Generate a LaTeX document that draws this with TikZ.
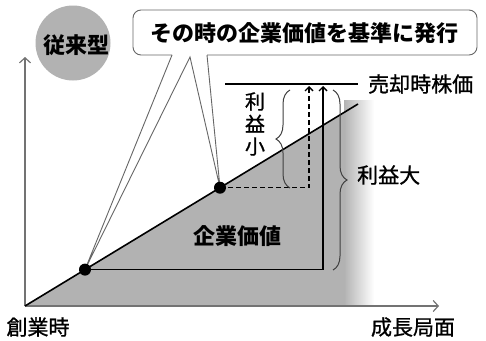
\documentclass[tikz,border=0pt]{standalone}
\usepackage{fontspec}
\newfontfamily\jp{Noto Sans CJK JP}
\newfontfamily\jpm[FakeBold=1.0]{Noto Sans CJK JP}
\usetikzlibrary{arrows.meta,decorations.pathreplacing}
\begin{document}
\begin{tikzpicture}[x=1pt,y=-1pt,
  lbl/.style={font=\jpm\fontsize{21}{22}\selectfont, inner sep=0pt},
  blbl/.style={font=\jp\bfseries\fontsize{22}{24}\selectfont, inner sep=0pt},
  axisline/.style={draw=black!55, line width=1.2pt, -{Straight Barb[length=5pt,width=11pt]}},
  dotnode/.style={circle, fill=black, inner sep=0pt, minimum size=12pt},
  brc/.style={decorate, decoration={brace, amplitude=14pt}, draw=black!75, line width=1pt},
  arr/.style={line width=1.4pt, -{Straight Barb[length=4pt,width=8pt]}},
  callline/.style={draw=black!60, line width=0.9pt}
]
\useasboundingbox (0,0) rectangle (486,340);
\fill[white] (0,0) rectangle (486,340);

% shaded area
\shade[left color=black!30, right color=white] (344,100) rectangle (374,306);
\fill[black!30] (25,306) -- (345,111.9) -- (345,306) -- cycle;

% badge
\node[circle, fill=black!30, minimum size=75pt, inner sep=0pt] (badge) at (73,43) {};
\node[blbl] (badgetext) at (76,45) {従来型};

% axes
\coordinate (O) at (25,306);
\coordinate (ytop) at (25,57);
\coordinate (xend) at (439,306);
\draw[axisline] (O) -- (ytop);
\draw[axisline] (O) -- (xend);

% diagonal
\coordinate (lend) at (358,104);
\draw[line width=1.6pt] (O) -- (lend);

% points
\coordinate (p1) at (85,269.6);
\coordinate (p2) at (220,187.7);

% sell price line
\coordinate (s1) at (225,84);
\coordinate (s2) at (358,84);
\draw[line width=1.6pt] (s1) -- (s2);
\node[lbl, anchor=west] (sell) at (368,84) {売却時株価};

% value paths
\coordinate (c1) at (323,269.6);
\coordinate (t1) at (323,86);
\draw[arr] (p1) -- (c1) -- (t1);
\coordinate (c2) at (309,187.7);
\coordinate (t2) at (309,86);
\draw[arr, dashed, dash pattern=on 5pt off 3pt] (p2) -- (c2) -- (t2);

% braces
\coordinate (b1a) at (290,188);
\coordinate (b1b) at (290,90);
\draw[brc] (b1a) -- (b1b);
\node[font=\jpm\fontsize{20}{22.5}\selectfont, inner sep=0pt, align=center] (small) at (255,124) {利\\益\\小};
\coordinate (b2a) at (333,90);
\coordinate (b2b) at (333,270);
\draw[brc] (b2a) -- (b2b);
\node[lbl, anchor=west] (big) at (357,175) {利益大};

% callout
\fill[white, rounded corners=8pt] (133,10) rectangle (477,55);
\draw[callline, rounded corners=8pt] (172,55) -- (133,55) -- (133,10) -- (477,10) -- (477,55) -- (207,55);
\coordinate (q1) at (172,55);
\coordinate (q2) at (190,57);
\coordinate (q3) at (207,55);
\draw[callline] (q1) -- (p1) -- (q2) -- (p2) -- (q3);
\node[blbl] (callout) at (304,33) {その時の企業価値を基準に発行};

% dots
\node[dotnode] (d1) at (p1) {};
\node[dotnode] (d2) at (p2) {};

% labels
\node[blbl] (value) at (237,236) {企業価値};
\node[lbl] (start) at (38,327) {創業時};
\node[lbl] (growth) at (413,327) {成長局面};
\end{tikzpicture}
\end{document}
